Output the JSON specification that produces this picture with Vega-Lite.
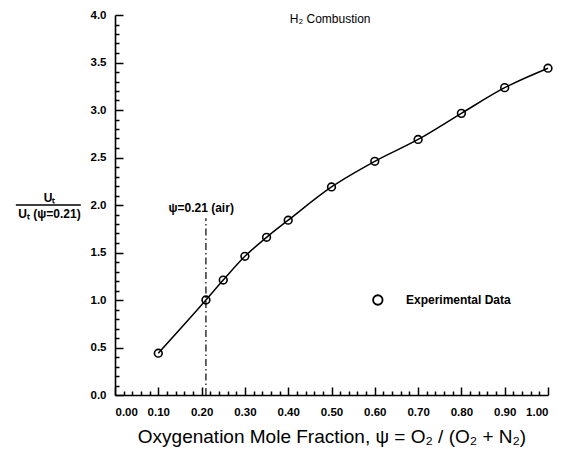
{
  "$schema": "https://vega.github.io/schema/vega-lite/v6.json",
  "width": 433,
  "height": 380,
  "autosize": {"type": "none"},
  "padding": {"left": 115, "top": 15, "right": 17, "bottom": 54},
  "background": "white",
  "config": {
    "view": {"stroke": null},
    "font": "Liberation Sans",
    "axis": {
      "labelFont": "Liberation Sans",
      "labelFontWeight": "bold",
      "labelFontSize": 11.5,
      "labelColor": "black",
      "domainColor": "black",
      "domainWidth": 1.6,
      "tickColor": "black",
      "tickWidth": 1.5,
      "grid": false,
      "titleColor": "black"
    }
  },
  "datasets": {
    "pts": [
      {"psi": 0.10, "u": 0.44},
      {"psi": 0.21, "u": 1.0},
      {"psi": 0.25, "u": 1.21},
      {"psi": 0.30, "u": 1.46},
      {"psi": 0.35, "u": 1.66},
      {"psi": 0.40, "u": 1.84},
      {"psi": 0.50, "u": 2.19},
      {"psi": 0.60, "u": 2.46},
      {"psi": 0.70, "u": 2.69},
      {"psi": 0.80, "u": 2.965},
      {"psi": 0.90, "u": 3.235},
      {"psi": 1.00, "u": 3.44}
    ],
    "minor": [
      {"psi": 0.0, "u": 0.0}
    ]
  },
  "layer": [
    {
      "data": {"name": "pts"},
      "mark": {"type": "line", "interpolate": "monotone", "color": "black", "strokeWidth": 1.5},
      "encoding": {
        "x": {
          "field": "psi", "type": "quantitative",
          "scale": {"domain": [0, 1], "nice": false, "zero": false},
          "axis": {
            "orient": "bottom",
            "values": [0, 0.1, 0.2, 0.3, 0.4, 0.5, 0.6, 0.7, 0.8, 0.9, 1.0],
            "format": ".2f",
            "tickSize": -8,
            "labelPadding": 19,
            "title": "Oxygenation Mole Fraction, ψ = O₂ / (O₂ + N₂)",
            "titleFont": "Liberation Sans",
            "titleFontWeight": "normal",
            "titleFontSize": 19,
            "titlePadding": 10
          }
        },
        "y": {
          "field": "u", "type": "quantitative",
          "scale": {"domain": [0, 4], "nice": false, "zero": false},
          "axis": {
            "orient": "left",
            "values": [0, 0.5, 1.0, 1.5, 2.0, 2.5, 3.0, 3.5, 4.0],
            "format": ".1f",
            "tickSize": -8,
            "labelPadding": 17,
            "title": ["Uₜ", "Uₜ (ψ=0.21)"],
            "titleAngle": 0,
            "titleFont": "Liberation Sans",
            "titleFontWeight": "bold",
            "titleFontSize": 12,
            "titleLineHeight": 16,
            "titleAlign": "center",
            "titleBaseline": "middle",
            "titleX": -66,
            "titleY": 182
          }
        }
      }
    },
    {
      "data": {"name": "pts"},
      "mark": {"type": "point", "shape": "circle", "filled": false, "color": "black", "size": 60, "strokeWidth": 1.6, "opacity": 1},
      "encoding": {
        "x": {"field": "psi", "type": "quantitative", "axis": null},
        "y": {"field": "u", "type": "quantitative", "axis": null}
      }
    },
    {
      "data": {"values": [{"psi": 0.21, "y0": 0, "y1": 1.86}]},
      "mark": {"type": "rule", "color": "black", "strokeWidth": 1.2, "strokeDash": [7, 3, 1.5, 3]},
      "encoding": {
        "x": {"field": "psi", "type": "quantitative", "axis": null},
        "y": {"field": "y0", "type": "quantitative", "axis": null},
        "y2": {"field": "y1"}
      }
    },
    {
      "data": {"values": [{"x0": -0.229, "x1": -0.079, "u": 2.0}]},
      "mark": {"type": "rule", "color": "black", "strokeWidth": 1.3},
      "encoding": {
        "x": {"field": "x0", "type": "quantitative", "axis": null},
        "x2": {"field": "x1"},
        "y": {"field": "u", "type": "quantitative", "axis": null}
      }
    },
    {
      "data": {"values": [
        {"psi": 0.199, "u": 1.97, "label": "ψ=0.21 (air)"}
      ]},
      "mark": {"type": "text", "font": "Liberation Sans", "fontWeight": "bold", "fontSize": 12, "align": "center", "baseline": "middle", "color": "black"},
      "encoding": {
        "x": {"field": "psi", "type": "quantitative", "axis": null},
        "y": {"field": "u", "type": "quantitative", "axis": null},
        "text": {"field": "label"}
      }
    },
    {
      "data": {"values": [
        {"psi": 0.497, "u": 3.955, "label": "H₂ Combustion"}
      ]},
      "mark": {"type": "text", "font": "Liberation Sans", "fontSize": 12, "align": "center", "baseline": "middle", "color": "black"},
      "encoding": {
        "x": {"field": "psi", "type": "quantitative", "axis": null},
        "y": {"field": "u", "type": "quantitative", "axis": null},
        "text": {"field": "label"}
      }
    },
    {
      "data": {"values": [{"psi": 0.607, "u": 1.0}]},
      "mark": {"type": "point", "shape": "circle", "filled": false, "color": "black", "size": 90, "strokeWidth": 1.8, "opacity": 1},
      "encoding": {
        "x": {"field": "psi", "type": "quantitative", "axis": null},
        "y": {"field": "u", "type": "quantitative", "axis": null}
      }
    },
    {
      "data": {"values": [{"psi": 0.672, "u": 1.0, "label": "Experimental Data"}]},
      "mark": {"type": "text", "font": "Liberation Sans", "fontWeight": "bold", "fontSize": 12, "align": "left", "baseline": "middle", "color": "black"},
      "encoding": {
        "x": {"field": "psi", "type": "quantitative", "axis": null},
        "y": {"field": "u", "type": "quantitative", "axis": null},
        "text": {"field": "label"}
      }
    },
    {
      "data": {"name": "minor"},
      "mark": {"type": "point", "opacity": 0},
      "encoding": {
        "x": {
          "field": "psi", "type": "quantitative",
          "axis": {
            "orient": "bottom",
            "values": [0.02,0.04,0.06,0.08,0.12,0.14,0.16,0.18,0.22,0.24,0.26,0.28,0.32,0.34,0.36,0.38,0.42,0.44,0.46,0.48,0.52,0.54,0.56,0.58,0.62,0.64,0.66,0.68,0.72,0.74,0.76,0.78,0.82,0.84,0.86,0.88,0.92,0.94,0.96,0.98],
            "labels": false,
            "domain": false,
            "tickSize": -4,
            "title": null
          }
        },
        "y": {
          "field": "u", "type": "quantitative",
          "axis": {
            "orient": "left",
            "values": [0.1,0.2,0.3,0.4,0.6,0.7,0.8,0.9,1.1,1.2,1.3,1.4,1.6,1.7,1.8,1.9,2.1,2.2,2.3,2.4,2.6,2.7,2.8,2.9,3.1,3.2,3.3,3.4,3.6,3.7,3.8,3.9],
            "labels": false,
            "domain": false,
            "tickSize": -4,
            "title": null
          }
        }
      }
    }
  ],
  "resolve": {"axis": {"x": "independent", "y": "independent"}}
}
